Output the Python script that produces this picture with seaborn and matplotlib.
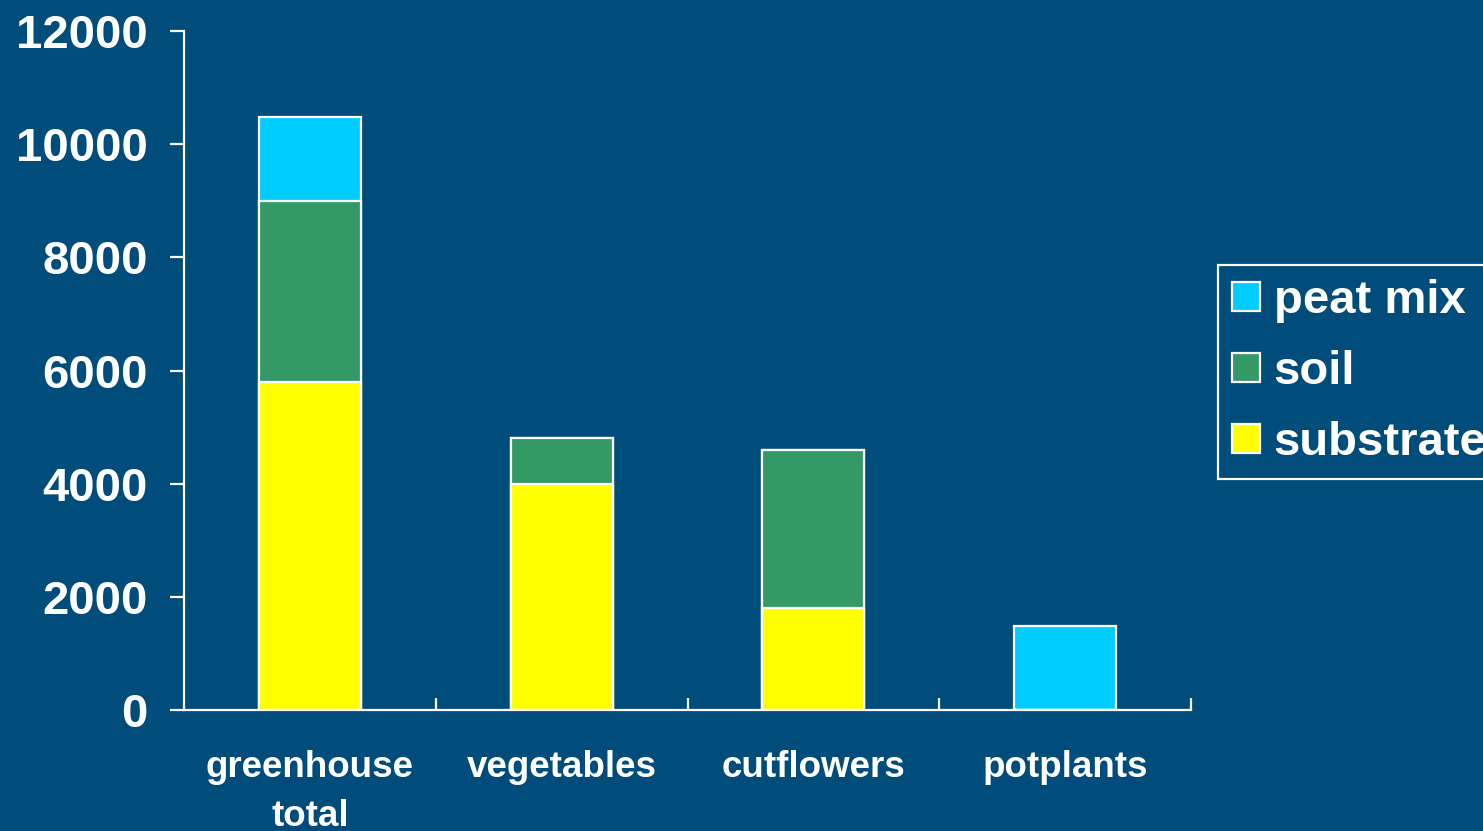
import matplotlib
matplotlib.use("Agg")
import matplotlib.pyplot as plt
import numpy as np
import pandas as pd
import seaborn as sns

categories = ["greenhouse\ntotal", "vegetables", "cutflowers", "potplants"]
substrate = [5800, 4000, 1800, 0]
soil = [3200, 800, 2800, 0]
peat_mix = [1480, 0, 0, 1480]

series_names = ["peat mix", "soil", "substrate"]
series_colors = ["#00CCFF", "#339966", "#FFFF00"]

bg = "#004C7A"

sns.set_theme(style="white")
plt.rcParams["font.family"] = ["Liberation Sans", "DejaVu Sans"]
plt.rcParams["font.weight"] = "bold"

fig = plt.figure(figsize=(14.83, 8.31), dpi=100, facecolor=bg)
ax = fig.add_axes([184 / 1483, 1 - 710 / 831, (1191 - 184) / 1483, (710 - 31) / 831])
ax.set_facecolor(bg)

sub = np.array(substrate)
so = np.array(soil)
pm = np.array(peat_mix)
stacks = [sub + so + pm, sub + so, sub]

# cumulative totals drawn tallest first, so each segment overlays the one above
for name, color, tops in zip(series_names, series_colors, stacks):
    df = pd.DataFrame({"category": categories, "value": tops})
    sns.barplot(data=df, x="category", y="value", color=color, saturation=1,
                width=0.405, edgecolor="white", linewidth=1.6, label=name, ax=ax,
                errorbar=None)

ax.set_xlim(-0.5, 3.5)
ax.set_ylim(0, 12000)
ax.set_yticks(np.arange(0, 12001, 2000))
ax.set_xlabel("")
ax.set_ylabel("")

for side in ["top", "right"]:
    ax.spines[side].set_visible(False)
for side in ["left", "bottom"]:
    ax.spines[side].set_color("white")
    ax.spines[side].set_linewidth(1.6)

ax.tick_params(axis="y", direction="out", length=10, width=1.6, color="white",
               labelcolor="white", labelsize=34, pad=16, left=True)
ax.tick_params(axis="x", which="major", length=0, labelcolor="white",
               labelsize=26.5, pad=29)
ax.set_xticks([0.5, 1.5, 2.5, 3.5], minor=True)
ax.tick_params(axis="x", which="minor", direction="in", length=9, width=1.6,
               color="white", bottom=True)
for lbl in ax.get_xticklabels():
    lbl.set_fontweight("bold")
    lbl.set_linespacing(1.5)
for lbl in ax.get_yticklabels():
    lbl.set_fontweight("bold")

handles, labels = ax.get_legend_handles_labels()
leg = ax.legend(handles, labels, loc="upper left",
                bbox_to_anchor=(1218 / 1483, 1 - 265 / 831),
                bbox_transform=fig.transFigure,
                prop={"size": 34, "weight": "bold"}, frameon=True,
                fancybox=False, edgecolor="white", facecolor=bg, framealpha=1,
                handlelength=0.58, handleheight=0.58, handletextpad=0.3,
                labelspacing=0.57, borderpad=0.3, borderaxespad=0)
leg.get_frame().set_linewidth(1.6)
for t in leg.get_texts():
    t.set_color("white")

fig.savefig("out.png", dpi=100, facecolor=bg)
